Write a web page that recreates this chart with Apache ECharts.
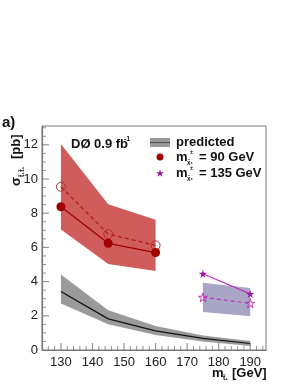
<!DOCTYPE html>
<html><head><meta charset="utf-8">
<script src="https://cdn.jsdelivr.net/npm/echarts@6/dist/echarts.min.js"></script>
<style>html,body{margin:0;padding:0;background:#fff}#c{width:303px;height:392px}</style>
</head><body><div id="c"></div>
<script>
// Data
const predX = [130, 145, 160, 175, 190];
const predMid = [3.42, 1.82, 1.12, 0.68, 0.38];
const predLow = [2.72, 1.50, 0.88, 0.50, 0.24];
const predHigh = [4.42, 2.33, 1.40, 0.85, 0.52];

const m90X = [130, 145, 160];
const m90Obs = [8.38, 6.24, 5.70];      // filled circles, solid line
const m90Exp = [9.55, 6.78, 6.12];      // open circles, dashed line
const m90Low = [7.05, 5.03, 4.62];
const m90High = [12.05, 8.52, 7.62];

const m135X = [175, 190];
const m135Obs = [4.46, 3.28];           // filled stars, solid line
const m135Exp = [3.08, 2.73];           // open stars, dashed line
const m135Low = [2.22, 1.97];
const m135High = [3.93, 3.63];

const xTickLabels = [130, 140, 150, 160, 170, 180, 190];
const yTickLabels = [0, 2, 4, 6, 8, 10, 12];

const FONT = 'Liberation Sans';
const STAR = 'path://M50,0 L61,35 L98,35 L68,57 L79,91 L50,70 L21,91 L32,57 L2,35 L39,35 Z';
const XMIN = 124, XMAX = 195, YMAX = 13.1;

function pairs(xs, ys) { return xs.map((x, i) => [x, ys[i]]); }

function bandSeries(xs, lo, hi, color) {
  return {
    type: 'custom', silent: true, z: 1,
    data: xs.map((x, i) => [x, lo[i], hi[i]]),
    encode: { x: 0, y: [1, 2] },
    renderItem: function (params, api) {
      if (params.dataIndex !== 0) return null;
      const pts = [];
      for (let i = 0; i < xs.length; i++) pts.push(api.coord([xs[i], hi[i]]));
      for (let i = xs.length - 1; i >= 0; i--) pts.push(api.coord([xs[i], lo[i]]));
      return { type: 'polygon', shape: { points: pts }, style: { fill: color } };
    }
  };
}

// tick mark positions (axis decoration)
const xMajorTicks = [], xMinorTicks = [], yMajorTicks = [], yMinorTicks = [];
for (let v = 126; v <= 194; v += 2) (v % 10 === 0 ? xMajorTicks : xMinorTicks).push([v, 0]);
for (let v = 0.5; v <= 13; v += 0.5) (v % 2 === 0 ? yMajorTicks : yMinorTicks).push([XMIN, v]);

function tickScatter(data, size, offset) {
  return { type: 'scatter', data: data, symbol: 'rect', symbolSize: size, symbolOffset: offset,
    itemStyle: { color: '#777' }, silent: true, clip: false, z: 8 };
}

function starPoints(cx, cy, R) {
  const pts = [];
  const r = R * 0.4;
  for (let i = 0; i < 10; i++) {
    const a = -Math.PI / 2 + i * Math.PI / 5;
    const rr = i % 2 === 0 ? R : r;
    pts.push([cx + rr * Math.cos(a), cy + rr * Math.sin(a)]);
  }
  return pts;
}

const chart = echarts.init(document.getElementById('c'), null, { renderer: 'canvas' });

function txt(x, y, t, size, opts) {
  return { type: 'text', x: x, y: y, style: Object.assign({ text: t, font: 'bold ' + size + 'px ' + FONT, fill: '#111', textAlign: 'left', textVerticalAlign: 'middle' }, opts || {}) };
}

const axisGray = '#777';
const option = {
  animation: false,
  grid: { left: 42, top: 126, right: 37, bottom: 42, show: true, borderColor: axisGray, borderWidth: 1 },
  xAxis: { type: 'value', min: XMIN, max: XMAX, splitNumber: 7,
    axisLine: { show: true, onZero: false, lineStyle: { color: axisGray, width: 1.2 } },
    axisTick: { show: false },
    axisLabel: { showMinLabel: false, showMaxLabel: false, color: '#222', fontFamily: FONT, fontSize: 13, margin: 6,
      formatter: v => (xTickLabels.indexOf(v) >= 0 ? String(v) : '') },
    splitLine: { show: false } },
  yAxis: { type: 'value', min: 0, max: YMAX, interval: 2,
    axisLine: { show: true, onZero: false, lineStyle: { color: axisGray, width: 1.2 } },
    axisTick: { show: false },
    axisLabel: { showMaxLabel: false, color: '#222', fontFamily: FONT, fontSize: 13, margin: 4,
      formatter: v => (yTickLabels.indexOf(v) >= 0 ? String(v) : '') },
    splitLine: { show: false } },
  series: [
    bandSeries(predX, predLow, predHigh, '#9a9a9a'),
    bandSeries(m90X, m90Low, m90High, '#d15c5c'),
    bandSeries(m135X, m135Low, m135High, '#a8a5c5'),
    tickScatter(xMajorTicks, [1.2, 7], [0, -3.5]),
    tickScatter(xMinorTicks, [1, 4], [0, -2]),
    tickScatter(yMajorTicks, [7, 1.2], [3.5, 0]),
    tickScatter(yMinorTicks, [4, 1], [2, 0]),
    { type: 'line', data: pairs(predX, predMid), symbol: 'none', lineStyle: { color: '#111', width: 1.2 }, z: 3 },
    { type: 'line', data: pairs(m90X, m90Exp), symbol: 'circle', symbolSize: 9,
      itemStyle: { color: 'transparent', borderColor: '#b82a2a', borderWidth: 1 },
      lineStyle: { color: '#b01818', width: 1.2, type: [4, 3] }, z: 4 },
    { type: 'line', data: pairs(m90X, m90Obs), symbol: 'circle', symbolSize: 9,
      itemStyle: { color: '#a00000', borderWidth: 0 },
      lineStyle: { color: '#a00000', width: 1.3 }, z: 5 },
    { type: 'line', data: pairs(m135X, m135Exp), symbol: STAR, symbolSize: 9,
      itemStyle: { color: 'transparent', borderColor: '#c030c0', borderWidth: 1 },
      lineStyle: { color: '#c030c0', width: 1.2, type: [4, 3] }, z: 4 },
    { type: 'line', data: pairs(m135X, m135Obs), symbol: STAR, symbolSize: 8,
      itemStyle: { color: '#a010a0', borderWidth: 0 },
      lineStyle: { color: '#c030c0', width: 1.2 }, z: 5 }
  ],
  graphic: [
    txt(2, 123, 'a)', 15),
    txt(71, 144, 'DØ 0.9 fb', 13),
    txt(124, 139, '-1', 7),
    { type: 'group', x: 16, y: 186, rotation: Math.PI / 2, children: [
      { type: 'text', x: 0, y: 0, style: { text: 'σ', font: 'bold 13px ' + FONT, fill: '#111', textAlign: 'left', textVerticalAlign: 'middle' } },
      { type: 'text', x: 9, y: 6, style: { text: 't̃₁t̃₁', font: 'bold 7px ' + FONT, fill: '#111', textAlign: 'left', textVerticalAlign: 'middle' } },
      { type: 'text', x: 27, y: 0, style: { text: '[pb]', font: 'bold 13px ' + FONT, fill: '#111', textAlign: 'left', textVerticalAlign: 'middle' } }
    ] },
    txt(212, 373, 'm', 13),
    txt(223, 378, 't̃₁', 7),
    txt(232, 373, '[GeV]', 13),
    { type: 'rect', shape: { x: 150, y: 138, width: 20, height: 9 }, style: { fill: '#9a9a9a' } },
    { type: 'line', shape: { x1: 150, y1: 142.5, x2: 170, y2: 142.5 }, style: { stroke: '#555', lineWidth: 1.2 } },
    txt(176, 142, 'predicted', 13),
    { type: 'circle', shape: { cx: 160, cy: 157, r: 3.5 }, style: { fill: '#a00000' } },
    txt(176, 157, 'm', 13),
    txt(187, 162, 'χ̃₁', 6),
    txt(190, 152, '±', 6),
    txt(199, 157, '= 90 GeV', 13),
    { type: 'polygon', shape: { points: starPoints(160, 173.5, 4) }, style: { fill: '#a010a0' } },
    txt(176, 173, 'm', 13),
    txt(187, 178, 'χ̃₁', 6),
    txt(190, 168, '±', 6),
    txt(199, 173, '= 135 GeV', 13)
  ]
};
chart.setOption(option);
</script>
</body></html>
